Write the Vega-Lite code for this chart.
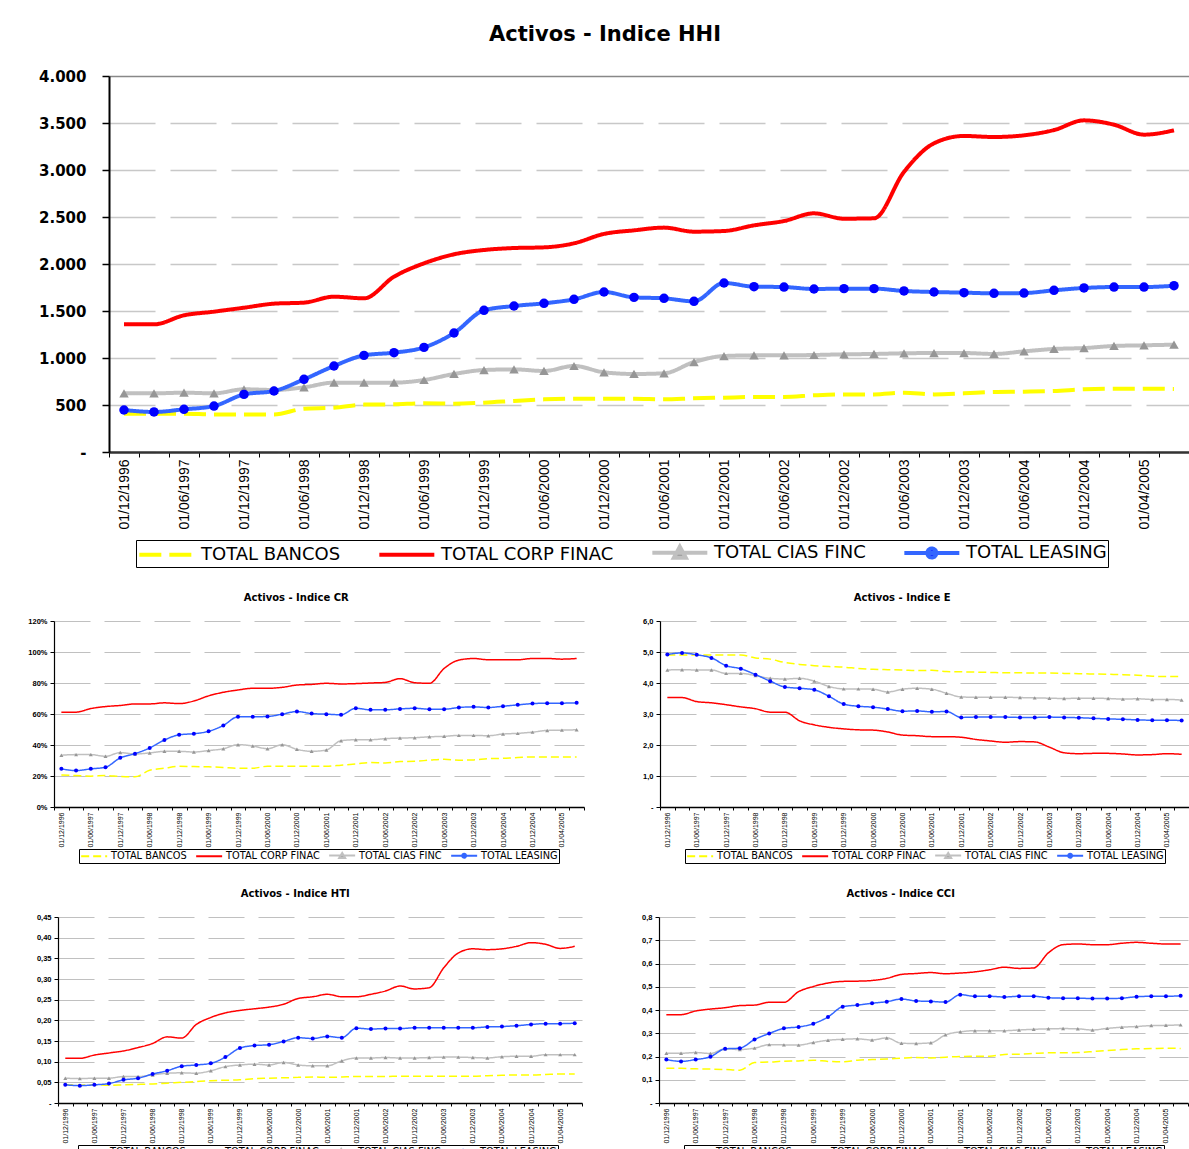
{
"$schema":"https://vega.github.io/schema/vega-lite/v6.json",
"background":"white",
"padding":{"left":8,"top":24,"right":0,"bottom":0},
"columns":1,
"spacing":25,
"resolve":{"scale":{"color":"independent","strokeDash":"independent","shape":"independent","fill":"independent"},"legend":{"color":"independent"}},
"config":{"view":{"stroke":null},"legend":{"layout":{"bottom":{"anchor":"middle"}}}},
"datasets":{
"hhi":[
{"d":"01/12/1996","s":"TOTAL BANCOS","v":408},{"d":"01/03/1997","s":"TOTAL BANCOS","v":408},{"d":"01/06/1997","s":"TOTAL BANCOS","v":408},{"d":"01/09/1997","s":"TOTAL BANCOS","v":400},{"d":"01/12/1997","s":"TOTAL BANCOS","v":400},{"d":"01/03/1998","s":"TOTAL BANCOS","v":400},{"d":"01/06/1998","s":"TOTAL BANCOS","v":461},{"d":"01/09/1998","s":"TOTAL BANCOS","v":472},{"d":"01/12/1998","s":"TOTAL BANCOS","v":504},{"d":"01/03/1999","s":"TOTAL BANCOS","v":507},{"d":"01/06/1999","s":"TOTAL BANCOS","v":518},{"d":"01/09/1999","s":"TOTAL BANCOS","v":514},{"d":"01/12/1999","s":"TOTAL BANCOS","v":525},{"d":"01/03/2000","s":"TOTAL BANCOS","v":543},{"d":"01/06/2000","s":"TOTAL BANCOS","v":560},{"d":"01/09/2000","s":"TOTAL BANCOS","v":567},{"d":"01/12/2000","s":"TOTAL BANCOS","v":567},{"d":"01/03/2001","s":"TOTAL BANCOS","v":567},{"d":"01/06/2001","s":"TOTAL BANCOS","v":560},{"d":"01/09/2001","s":"TOTAL BANCOS","v":571},{"d":"01/12/2001","s":"TOTAL BANCOS","v":578},{"d":"01/03/2002","s":"TOTAL BANCOS","v":585},{"d":"01/06/2002","s":"TOTAL BANCOS","v":585},{"d":"01/09/2002","s":"TOTAL BANCOS","v":603},{"d":"01/12/2002","s":"TOTAL BANCOS","v":613},{"d":"01/03/2003","s":"TOTAL BANCOS","v":613},{"d":"01/06/2003","s":"TOTAL BANCOS","v":631},{"d":"01/09/2003","s":"TOTAL BANCOS","v":613},{"d":"01/12/2003","s":"TOTAL BANCOS","v":624},{"d":"01/03/2004","s":"TOTAL BANCOS","v":638},{"d":"01/06/2004","s":"TOTAL BANCOS","v":642},{"d":"01/09/2004","s":"TOTAL BANCOS","v":649},{"d":"01/12/2004","s":"TOTAL BANCOS","v":667},{"d":"01/02/2005","s":"TOTAL BANCOS","v":674},{"d":"01/04/2005","s":"TOTAL BANCOS","v":674},{"d":"01/06/2005","s":"TOTAL BANCOS","v":670},
{"d":"01/12/1996","s":"TOTAL CORP FINAC","v":1358},{"d":"01/03/1997","s":"TOTAL CORP FINAC","v":1358},{"d":"01/06/1997","s":"TOTAL CORP FINAC","v":1454},{"d":"01/09/1997","s":"TOTAL CORP FINAC","v":1493},{"d":"01/12/1997","s":"TOTAL CORP FINAC","v":1535},{"d":"01/03/1998","s":"TOTAL CORP FINAC","v":1578},{"d":"01/06/1998","s":"TOTAL CORP FINAC","v":1589},{"d":"01/09/1998","s":"TOTAL CORP FINAC","v":1652},{"d":"01/12/1998","s":"TOTAL CORP FINAC","v":1635},{"d":"01/03/1999","s":"TOTAL CORP FINAC","v":1865},{"d":"01/06/1999","s":"TOTAL CORP FINAC","v":2007},{"d":"01/09/1999","s":"TOTAL CORP FINAC","v":2103},{"d":"01/12/1999","s":"TOTAL CORP FINAC","v":2149},{"d":"01/03/2000","s":"TOTAL CORP FINAC","v":2170},{"d":"01/06/2000","s":"TOTAL CORP FINAC","v":2177},{"d":"01/09/2000","s":"TOTAL CORP FINAC","v":2220},{"d":"01/12/2000","s":"TOTAL CORP FINAC","v":2320},{"d":"01/03/2001","s":"TOTAL CORP FINAC","v":2358},{"d":"01/06/2001","s":"TOTAL CORP FINAC","v":2387},{"d":"01/09/2001","s":"TOTAL CORP FINAC","v":2344},{"d":"01/12/2001","s":"TOTAL CORP FINAC","v":2351},{"d":"01/03/2002","s":"TOTAL CORP FINAC","v":2411},{"d":"01/06/2002","s":"TOTAL CORP FINAC","v":2457},{"d":"01/09/2002","s":"TOTAL CORP FINAC","v":2539},{"d":"01/12/2002","s":"TOTAL CORP FINAC","v":2482},{"d":"01/03/2003","s":"TOTAL CORP FINAC","v":2486},{"d":"01/06/2003","s":"TOTAL CORP FINAC","v":2980},{"d":"01/09/2003","s":"TOTAL CORP FINAC","v":3284},{"d":"01/12/2003","s":"TOTAL CORP FINAC","v":3362},{"d":"01/03/2004","s":"TOTAL CORP FINAC","v":3351},{"d":"01/06/2004","s":"TOTAL CORP FINAC","v":3369},{"d":"01/09/2004","s":"TOTAL CORP FINAC","v":3425},{"d":"01/12/2004","s":"TOTAL CORP FINAC","v":3528},{"d":"01/02/2005","s":"TOTAL CORP FINAC","v":3482},{"d":"01/04/2005","s":"TOTAL CORP FINAC","v":3376},{"d":"01/06/2005","s":"TOTAL CORP FINAC","v":3422},
{"d":"01/12/1996","s":"TOTAL CIAS FINC","v":624},{"d":"01/03/1997","s":"TOTAL CIAS FINC","v":624},{"d":"01/06/1997","s":"TOTAL CIAS FINC","v":631},{"d":"01/09/1997","s":"TOTAL CIAS FINC","v":624},{"d":"01/12/1997","s":"TOTAL CIAS FINC","v":667},{"d":"01/03/1998","s":"TOTAL CIAS FINC","v":660},{"d":"01/06/1998","s":"TOTAL CIAS FINC","v":688},{"d":"01/09/1998","s":"TOTAL CIAS FINC","v":738},{"d":"01/12/1998","s":"TOTAL CIAS FINC","v":738},{"d":"01/03/1999","s":"TOTAL CIAS FINC","v":738},{"d":"01/06/1999","s":"TOTAL CIAS FINC","v":766},{"d":"01/09/1999","s":"TOTAL CIAS FINC","v":830},{"d":"01/12/1999","s":"TOTAL CIAS FINC","v":872},{"d":"01/03/2000","s":"TOTAL CIAS FINC","v":879},{"d":"01/06/2000","s":"TOTAL CIAS FINC","v":862},{"d":"01/09/2000","s":"TOTAL CIAS FINC","v":915},{"d":"01/12/2000","s":"TOTAL CIAS FINC","v":848},{"d":"01/03/2001","s":"TOTAL CIAS FINC","v":830},{"d":"01/06/2001","s":"TOTAL CIAS FINC","v":837},{"d":"01/09/2001","s":"TOTAL CIAS FINC","v":957},{"d":"01/12/2001","s":"TOTAL CIAS FINC","v":1021},{"d":"01/03/2002","s":"TOTAL CIAS FINC","v":1028},{"d":"01/06/2002","s":"TOTAL CIAS FINC","v":1028},{"d":"01/09/2002","s":"TOTAL CIAS FINC","v":1032},{"d":"01/12/2002","s":"TOTAL CIAS FINC","v":1039},{"d":"01/03/2003","s":"TOTAL CIAS FINC","v":1043},{"d":"01/06/2003","s":"TOTAL CIAS FINC","v":1050},{"d":"01/09/2003","s":"TOTAL CIAS FINC","v":1053},{"d":"01/12/2003","s":"TOTAL CIAS FINC","v":1053},{"d":"01/03/2004","s":"TOTAL CIAS FINC","v":1043},{"d":"01/06/2004","s":"TOTAL CIAS FINC","v":1071},{"d":"01/09/2004","s":"TOTAL CIAS FINC","v":1096},{"d":"01/12/2004","s":"TOTAL CIAS FINC","v":1106},{"d":"01/02/2005","s":"TOTAL CIAS FINC","v":1128},{"d":"01/04/2005","s":"TOTAL CIAS FINC","v":1135},{"d":"01/06/2005","s":"TOTAL CIAS FINC","v":1142},
{"d":"01/12/1996","s":"TOTAL LEASING","v":447},{"d":"01/03/1997","s":"TOTAL LEASING","v":426},{"d":"01/06/1997","s":"TOTAL LEASING","v":454},{"d":"01/09/1997","s":"TOTAL LEASING","v":489},{"d":"01/12/1997","s":"TOTAL LEASING","v":613},{"d":"01/03/1998","s":"TOTAL LEASING","v":649},{"d":"01/06/1998","s":"TOTAL LEASING","v":773},{"d":"01/09/1998","s":"TOTAL LEASING","v":915},{"d":"01/12/1998","s":"TOTAL LEASING","v":1028},{"d":"01/03/1999","s":"TOTAL LEASING","v":1057},{"d":"01/06/1999","s":"TOTAL LEASING","v":1113},{"d":"01/09/1999","s":"TOTAL LEASING","v":1266},{"d":"01/12/1999","s":"TOTAL LEASING","v":1507},{"d":"01/03/2000","s":"TOTAL LEASING","v":1553},{"d":"01/06/2000","s":"TOTAL LEASING","v":1582},{"d":"01/09/2000","s":"TOTAL LEASING","v":1624},{"d":"01/12/2000","s":"TOTAL LEASING","v":1702},{"d":"01/03/2001","s":"TOTAL LEASING","v":1645},{"d":"01/06/2001","s":"TOTAL LEASING","v":1635},{"d":"01/09/2001","s":"TOTAL LEASING","v":1603},{"d":"01/12/2001","s":"TOTAL LEASING","v":1798},{"d":"01/03/2002","s":"TOTAL LEASING","v":1759},{"d":"01/06/2002","s":"TOTAL LEASING","v":1755},{"d":"01/09/2002","s":"TOTAL LEASING","v":1734},{"d":"01/12/2002","s":"TOTAL LEASING","v":1738},{"d":"01/03/2003","s":"TOTAL LEASING","v":1738},{"d":"01/06/2003","s":"TOTAL LEASING","v":1713},{"d":"01/09/2003","s":"TOTAL LEASING","v":1702},{"d":"01/12/2003","s":"TOTAL LEASING","v":1695},{"d":"01/03/2004","s":"TOTAL LEASING","v":1688},{"d":"01/06/2004","s":"TOTAL LEASING","v":1691},{"d":"01/09/2004","s":"TOTAL LEASING","v":1720},{"d":"01/12/2004","s":"TOTAL LEASING","v":1745},{"d":"01/02/2005","s":"TOTAL LEASING","v":1755},{"d":"01/04/2005","s":"TOTAL LEASING","v":1755},{"d":"01/06/2005","s":"TOTAL LEASING","v":1769}
],
"cr":[
{"d":"01/12/1996","s":"TOTAL BANCOS","v":20.7},{"d":"01/03/1997","s":"TOTAL BANCOS","v":20.3},{"d":"01/06/1997","s":"TOTAL BANCOS","v":19.9},{"d":"01/09/1997","s":"TOTAL BANCOS","v":20.3},{"d":"01/12/1997","s":"TOTAL BANCOS","v":19.7},{"d":"01/03/1998","s":"TOTAL BANCOS","v":19.5},{"d":"01/06/1998","s":"TOTAL BANCOS","v":23.7},{"d":"01/09/1998","s":"TOTAL BANCOS","v":25.0},{"d":"01/12/1998","s":"TOTAL BANCOS","v":26.3},{"d":"01/03/1999","s":"TOTAL BANCOS","v":26.1},{"d":"01/06/1999","s":"TOTAL BANCOS","v":25.9},{"d":"01/09/1999","s":"TOTAL BANCOS","v":25.5},{"d":"01/12/1999","s":"TOTAL BANCOS","v":25.0},{"d":"01/03/2000","s":"TOTAL BANCOS","v":25.0},{"d":"01/06/2000","s":"TOTAL BANCOS","v":26.3},{"d":"01/09/2000","s":"TOTAL BANCOS","v":26.3},{"d":"01/12/2000","s":"TOTAL BANCOS","v":26.3},{"d":"01/03/2001","s":"TOTAL BANCOS","v":26.3},{"d":"01/06/2001","s":"TOTAL BANCOS","v":26.3},{"d":"01/09/2001","s":"TOTAL BANCOS","v":27.0},{"d":"01/12/2001","s":"TOTAL BANCOS","v":27.8},{"d":"01/03/2002","s":"TOTAL BANCOS","v":28.7},{"d":"01/06/2002","s":"TOTAL BANCOS","v":28.4},{"d":"01/09/2002","s":"TOTAL BANCOS","v":29.3},{"d":"01/12/2002","s":"TOTAL BANCOS","v":29.5},{"d":"01/03/2003","s":"TOTAL BANCOS","v":30.2},{"d":"01/06/2003","s":"TOTAL BANCOS","v":30.8},{"d":"01/09/2003","s":"TOTAL BANCOS","v":30.2},{"d":"01/12/2003","s":"TOTAL BANCOS","v":30.4},{"d":"01/03/2004","s":"TOTAL BANCOS","v":31.2},{"d":"01/06/2004","s":"TOTAL BANCOS","v":31.4},{"d":"01/09/2004","s":"TOTAL BANCOS","v":31.9},{"d":"01/12/2004","s":"TOTAL BANCOS","v":32.3},{"d":"01/02/2005","s":"TOTAL BANCOS","v":32.3},{"d":"01/04/2005","s":"TOTAL BANCOS","v":32.3},{"d":"01/06/2005","s":"TOTAL BANCOS","v":32.3},
{"d":"01/12/1996","s":"TOTAL CORP FINAC","v":61.2},{"d":"01/03/1997","s":"TOTAL CORP FINAC","v":61.2},{"d":"01/06/1997","s":"TOTAL CORP FINAC","v":63.5},{"d":"01/09/1997","s":"TOTAL CORP FINAC","v":64.8},{"d":"01/12/1997","s":"TOTAL CORP FINAC","v":65.5},{"d":"01/03/1998","s":"TOTAL CORP FINAC","v":66.5},{"d":"01/06/1998","s":"TOTAL CORP FINAC","v":66.5},{"d":"01/09/1998","s":"TOTAL CORP FINAC","v":67.2},{"d":"01/12/1998","s":"TOTAL CORP FINAC","v":66.7},{"d":"01/03/1999","s":"TOTAL CORP FINAC","v":68.4},{"d":"01/06/1999","s":"TOTAL CORP FINAC","v":71.7},{"d":"01/09/1999","s":"TOTAL CORP FINAC","v":74.0},{"d":"01/12/1999","s":"TOTAL CORP FINAC","v":75.5},{"d":"01/03/2000","s":"TOTAL CORP FINAC","v":76.6},{"d":"01/06/2000","s":"TOTAL CORP FINAC","v":76.6},{"d":"01/09/2000","s":"TOTAL CORP FINAC","v":77.2},{"d":"01/12/2000","s":"TOTAL CORP FINAC","v":78.7},{"d":"01/03/2001","s":"TOTAL CORP FINAC","v":79.1},{"d":"01/06/2001","s":"TOTAL CORP FINAC","v":79.8},{"d":"01/09/2001","s":"TOTAL CORP FINAC","v":79.4},{"d":"01/12/2001","s":"TOTAL CORP FINAC","v":79.6},{"d":"01/03/2002","s":"TOTAL CORP FINAC","v":80.0},{"d":"01/06/2002","s":"TOTAL CORP FINAC","v":80.4},{"d":"01/09/2002","s":"TOTAL CORP FINAC","v":82.8},{"d":"01/12/2002","s":"TOTAL CORP FINAC","v":80.2},{"d":"01/03/2003","s":"TOTAL CORP FINAC","v":79.8},{"d":"01/06/2003","s":"TOTAL CORP FINAC","v":89.4},{"d":"01/09/2003","s":"TOTAL CORP FINAC","v":94.8},{"d":"01/12/2003","s":"TOTAL CORP FINAC","v":95.8},{"d":"01/03/2004","s":"TOTAL CORP FINAC","v":95.0},{"d":"01/06/2004","s":"TOTAL CORP FINAC","v":95.0},{"d":"01/09/2004","s":"TOTAL CORP FINAC","v":95.0},{"d":"01/12/2004","s":"TOTAL CORP FINAC","v":95.8},{"d":"01/02/2005","s":"TOTAL CORP FINAC","v":95.8},{"d":"01/04/2005","s":"TOTAL CORP FINAC","v":95.4},{"d":"01/06/2005","s":"TOTAL CORP FINAC","v":95.8},
{"d":"01/12/1996","s":"TOTAL CIAS FINC","v":33.4},{"d":"01/03/1997","s":"TOTAL CIAS FINC","v":33.8},{"d":"01/06/1997","s":"TOTAL CIAS FINC","v":33.8},{"d":"01/09/1997","s":"TOTAL CIAS FINC","v":32.7},{"d":"01/12/1997","s":"TOTAL CIAS FINC","v":35.1},{"d":"01/03/1998","s":"TOTAL CIAS FINC","v":34.2},{"d":"01/06/1998","s":"TOTAL CIAS FINC","v":34.9},{"d":"01/09/1998","s":"TOTAL CIAS FINC","v":35.9},{"d":"01/12/1998","s":"TOTAL CIAS FINC","v":35.9},{"d":"01/03/1999","s":"TOTAL CIAS FINC","v":35.5},{"d":"01/06/1999","s":"TOTAL CIAS FINC","v":36.4},{"d":"01/09/1999","s":"TOTAL CIAS FINC","v":37.6},{"d":"01/12/1999","s":"TOTAL CIAS FINC","v":40.2},{"d":"01/03/2000","s":"TOTAL CIAS FINC","v":39.4},{"d":"01/06/2000","s":"TOTAL CIAS FINC","v":37.6},{"d":"01/09/2000","s":"TOTAL CIAS FINC","v":40.2},{"d":"01/12/2000","s":"TOTAL CIAS FINC","v":37.2},{"d":"01/03/2001","s":"TOTAL CIAS FINC","v":35.9},{"d":"01/06/2001","s":"TOTAL CIAS FINC","v":36.8},{"d":"01/09/2001","s":"TOTAL CIAS FINC","v":42.8},{"d":"01/12/2001","s":"TOTAL CIAS FINC","v":43.4},{"d":"01/03/2002","s":"TOTAL CIAS FINC","v":43.4},{"d":"01/06/2002","s":"TOTAL CIAS FINC","v":44.1},{"d":"01/09/2002","s":"TOTAL CIAS FINC","v":44.5},{"d":"01/12/2002","s":"TOTAL CIAS FINC","v":44.7},{"d":"01/03/2003","s":"TOTAL CIAS FINC","v":45.3},{"d":"01/06/2003","s":"TOTAL CIAS FINC","v":45.6},{"d":"01/09/2003","s":"TOTAL CIAS FINC","v":46.2},{"d":"01/12/2003","s":"TOTAL CIAS FINC","v":46.2},{"d":"01/03/2004","s":"TOTAL CIAS FINC","v":46.0},{"d":"01/06/2004","s":"TOTAL CIAS FINC","v":47.1},{"d":"01/09/2004","s":"TOTAL CIAS FINC","v":47.5},{"d":"01/12/2004","s":"TOTAL CIAS FINC","v":48.3},{"d":"01/02/2005","s":"TOTAL CIAS FINC","v":49.4},{"d":"01/04/2005","s":"TOTAL CIAS FINC","v":49.6},{"d":"01/06/2005","s":"TOTAL CIAS FINC","v":49.8},
{"d":"01/12/1996","s":"TOTAL LEASING","v":24.6},{"d":"01/03/1997","s":"TOTAL LEASING","v":23.5},{"d":"01/06/1997","s":"TOTAL LEASING","v":24.6},{"d":"01/09/1997","s":"TOTAL LEASING","v":25.7},{"d":"01/12/1997","s":"TOTAL LEASING","v":31.7},{"d":"01/03/1998","s":"TOTAL LEASING","v":34.4},{"d":"01/06/1998","s":"TOTAL LEASING","v":38.1},{"d":"01/09/1998","s":"TOTAL LEASING","v":43.2},{"d":"01/12/1998","s":"TOTAL LEASING","v":46.6},{"d":"01/03/1999","s":"TOTAL LEASING","v":47.3},{"d":"01/06/1999","s":"TOTAL LEASING","v":48.8},{"d":"01/09/1999","s":"TOTAL LEASING","v":52.6},{"d":"01/12/1999","s":"TOTAL LEASING","v":58.2},{"d":"01/03/2000","s":"TOTAL LEASING","v":58.2},{"d":"01/06/2000","s":"TOTAL LEASING","v":58.4},{"d":"01/09/2000","s":"TOTAL LEASING","v":59.9},{"d":"01/12/2000","s":"TOTAL LEASING","v":61.6},{"d":"01/03/2001","s":"TOTAL LEASING","v":60.3},{"d":"01/06/2001","s":"TOTAL LEASING","v":59.9},{"d":"01/09/2001","s":"TOTAL LEASING","v":59.5},{"d":"01/12/2001","s":"TOTAL LEASING","v":63.7},{"d":"01/03/2002","s":"TOTAL LEASING","v":62.7},{"d":"01/06/2002","s":"TOTAL LEASING","v":62.7},{"d":"01/09/2002","s":"TOTAL LEASING","v":63.3},{"d":"01/12/2002","s":"TOTAL LEASING","v":63.7},{"d":"01/03/2003","s":"TOTAL LEASING","v":63.1},{"d":"01/06/2003","s":"TOTAL LEASING","v":63.1},{"d":"01/09/2003","s":"TOTAL LEASING","v":64.2},{"d":"01/12/2003","s":"TOTAL LEASING","v":64.6},{"d":"01/03/2004","s":"TOTAL LEASING","v":64.2},{"d":"01/06/2004","s":"TOTAL LEASING","v":65.0},{"d":"01/09/2004","s":"TOTAL LEASING","v":65.9},{"d":"01/12/2004","s":"TOTAL LEASING","v":66.7},{"d":"01/02/2005","s":"TOTAL LEASING","v":67.0},{"d":"01/04/2005","s":"TOTAL LEASING","v":67.0},{"d":"01/06/2005","s":"TOTAL LEASING","v":67.2}
],
"e":[
{"d":"01/12/1996","s":"TOTAL BANCOS","v":4.90},{"d":"01/03/1997","s":"TOTAL BANCOS","v":4.90},{"d":"01/06/1997","s":"TOTAL BANCOS","v":4.90},{"d":"01/09/1997","s":"TOTAL BANCOS","v":4.90},{"d":"01/12/1997","s":"TOTAL BANCOS","v":4.90},{"d":"01/03/1998","s":"TOTAL BANCOS","v":4.90},{"d":"01/06/1998","s":"TOTAL BANCOS","v":4.81},{"d":"01/09/1998","s":"TOTAL BANCOS","v":4.77},{"d":"01/12/1998","s":"TOTAL BANCOS","v":4.66},{"d":"01/03/1999","s":"TOTAL BANCOS","v":4.60},{"d":"01/06/1999","s":"TOTAL BANCOS","v":4.56},{"d":"01/09/1999","s":"TOTAL BANCOS","v":4.53},{"d":"01/12/1999","s":"TOTAL BANCOS","v":4.51},{"d":"01/03/2000","s":"TOTAL BANCOS","v":4.47},{"d":"01/06/2000","s":"TOTAL BANCOS","v":4.44},{"d":"01/09/2000","s":"TOTAL BANCOS","v":4.43},{"d":"01/12/2000","s":"TOTAL BANCOS","v":4.42},{"d":"01/03/2001","s":"TOTAL BANCOS","v":4.40},{"d":"01/06/2001","s":"TOTAL BANCOS","v":4.41},{"d":"01/09/2001","s":"TOTAL BANCOS","v":4.37},{"d":"01/12/2001","s":"TOTAL BANCOS","v":4.36},{"d":"01/03/2002","s":"TOTAL BANCOS","v":4.35},{"d":"01/06/2002","s":"TOTAL BANCOS","v":4.34},{"d":"01/09/2002","s":"TOTAL BANCOS","v":4.33},{"d":"01/12/2002","s":"TOTAL BANCOS","v":4.33},{"d":"01/03/2003","s":"TOTAL BANCOS","v":4.32},{"d":"01/06/2003","s":"TOTAL BANCOS","v":4.32},{"d":"01/09/2003","s":"TOTAL BANCOS","v":4.31},{"d":"01/12/2003","s":"TOTAL BANCOS","v":4.30},{"d":"01/03/2004","s":"TOTAL BANCOS","v":4.29},{"d":"01/06/2004","s":"TOTAL BANCOS","v":4.28},{"d":"01/09/2004","s":"TOTAL BANCOS","v":4.27},{"d":"01/12/2004","s":"TOTAL BANCOS","v":4.25},{"d":"01/02/2005","s":"TOTAL BANCOS","v":4.22},{"d":"01/04/2005","s":"TOTAL BANCOS","v":4.21},{"d":"01/06/2005","s":"TOTAL BANCOS","v":4.21},
{"d":"01/12/1996","s":"TOTAL CORP FINAC","v":3.53},{"d":"01/03/1997","s":"TOTAL CORP FINAC","v":3.53},{"d":"01/06/1997","s":"TOTAL CORP FINAC","v":3.40},{"d":"01/09/1997","s":"TOTAL CORP FINAC","v":3.36},{"d":"01/12/1997","s":"TOTAL CORP FINAC","v":3.30},{"d":"01/03/1998","s":"TOTAL CORP FINAC","v":3.23},{"d":"01/06/1998","s":"TOTAL CORP FINAC","v":3.17},{"d":"01/09/1998","s":"TOTAL CORP FINAC","v":3.06},{"d":"01/12/1998","s":"TOTAL CORP FINAC","v":3.06},{"d":"01/03/1999","s":"TOTAL CORP FINAC","v":2.78},{"d":"01/06/1999","s":"TOTAL CORP FINAC","v":2.65},{"d":"01/09/1999","s":"TOTAL CORP FINAC","v":2.57},{"d":"01/12/1999","s":"TOTAL CORP FINAC","v":2.52},{"d":"01/03/2000","s":"TOTAL CORP FINAC","v":2.49},{"d":"01/06/2000","s":"TOTAL CORP FINAC","v":2.48},{"d":"01/09/2000","s":"TOTAL CORP FINAC","v":2.42},{"d":"01/12/2000","s":"TOTAL CORP FINAC","v":2.32},{"d":"01/03/2001","s":"TOTAL CORP FINAC","v":2.30},{"d":"01/06/2001","s":"TOTAL CORP FINAC","v":2.27},{"d":"01/09/2001","s":"TOTAL CORP FINAC","v":2.27},{"d":"01/12/2001","s":"TOTAL CORP FINAC","v":2.25},{"d":"01/03/2002","s":"TOTAL CORP FINAC","v":2.18},{"d":"01/06/2002","s":"TOTAL CORP FINAC","v":2.13},{"d":"01/09/2002","s":"TOTAL CORP FINAC","v":2.09},{"d":"01/12/2002","s":"TOTAL CORP FINAC","v":2.11},{"d":"01/03/2003","s":"TOTAL CORP FINAC","v":2.10},{"d":"01/06/2003","s":"TOTAL CORP FINAC","v":1.93},{"d":"01/09/2003","s":"TOTAL CORP FINAC","v":1.75},{"d":"01/12/2003","s":"TOTAL CORP FINAC","v":1.72},{"d":"01/03/2004","s":"TOTAL CORP FINAC","v":1.73},{"d":"01/06/2004","s":"TOTAL CORP FINAC","v":1.73},{"d":"01/09/2004","s":"TOTAL CORP FINAC","v":1.71},{"d":"01/12/2004","s":"TOTAL CORP FINAC","v":1.68},{"d":"01/02/2005","s":"TOTAL CORP FINAC","v":1.69},{"d":"01/04/2005","s":"TOTAL CORP FINAC","v":1.72},{"d":"01/06/2005","s":"TOTAL CORP FINAC","v":1.70},
{"d":"01/12/1996","s":"TOTAL CIAS FINC","v":4.42},{"d":"01/03/1997","s":"TOTAL CIAS FINC","v":4.43},{"d":"01/06/1997","s":"TOTAL CIAS FINC","v":4.42},{"d":"01/09/1997","s":"TOTAL CIAS FINC","v":4.42},{"d":"01/12/1997","s":"TOTAL CIAS FINC","v":4.31},{"d":"01/03/1998","s":"TOTAL CIAS FINC","v":4.31},{"d":"01/06/1998","s":"TOTAL CIAS FINC","v":4.24},{"d":"01/09/1998","s":"TOTAL CIAS FINC","v":4.15},{"d":"01/12/1998","s":"TOTAL CIAS FINC","v":4.13},{"d":"01/03/1999","s":"TOTAL CIAS FINC","v":4.15},{"d":"01/06/1999","s":"TOTAL CIAS FINC","v":4.06},{"d":"01/09/1999","s":"TOTAL CIAS FINC","v":3.89},{"d":"01/12/1999","s":"TOTAL CIAS FINC","v":3.81},{"d":"01/03/2000","s":"TOTAL CIAS FINC","v":3.81},{"d":"01/06/2000","s":"TOTAL CIAS FINC","v":3.80},{"d":"01/09/2000","s":"TOTAL CIAS FINC","v":3.71},{"d":"01/12/2000","s":"TOTAL CIAS FINC","v":3.80},{"d":"01/03/2001","s":"TOTAL CIAS FINC","v":3.83},{"d":"01/06/2001","s":"TOTAL CIAS FINC","v":3.80},{"d":"01/09/2001","s":"TOTAL CIAS FINC","v":3.67},{"d":"01/12/2001","s":"TOTAL CIAS FINC","v":3.55},{"d":"01/03/2002","s":"TOTAL CIAS FINC","v":3.54},{"d":"01/06/2002","s":"TOTAL CIAS FINC","v":3.54},{"d":"01/09/2002","s":"TOTAL CIAS FINC","v":3.54},{"d":"01/12/2002","s":"TOTAL CIAS FINC","v":3.53},{"d":"01/03/2003","s":"TOTAL CIAS FINC","v":3.52},{"d":"01/06/2003","s":"TOTAL CIAS FINC","v":3.51},{"d":"01/09/2003","s":"TOTAL CIAS FINC","v":3.50},{"d":"01/12/2003","s":"TOTAL CIAS FINC","v":3.51},{"d":"01/03/2004","s":"TOTAL CIAS FINC","v":3.51},{"d":"01/06/2004","s":"TOTAL CIAS FINC","v":3.50},{"d":"01/09/2004","s":"TOTAL CIAS FINC","v":3.48},{"d":"01/12/2004","s":"TOTAL CIAS FINC","v":3.49},{"d":"01/02/2005","s":"TOTAL CIAS FINC","v":3.47},{"d":"01/04/2005","s":"TOTAL CIAS FINC","v":3.47},{"d":"01/06/2005","s":"TOTAL CIAS FINC","v":3.45},
{"d":"01/12/1996","s":"TOTAL LEASING","v":4.92},{"d":"01/03/1997","s":"TOTAL LEASING","v":4.97},{"d":"01/06/1997","s":"TOTAL LEASING","v":4.91},{"d":"01/09/1997","s":"TOTAL LEASING","v":4.81},{"d":"01/12/1997","s":"TOTAL LEASING","v":4.56},{"d":"01/03/1998","s":"TOTAL LEASING","v":4.46},{"d":"01/06/1998","s":"TOTAL LEASING","v":4.27},{"d":"01/09/1998","s":"TOTAL LEASING","v":4.06},{"d":"01/12/1998","s":"TOTAL LEASING","v":3.87},{"d":"01/03/1999","s":"TOTAL LEASING","v":3.83},{"d":"01/06/1999","s":"TOTAL LEASING","v":3.78},{"d":"01/09/1999","s":"TOTAL LEASING","v":3.57},{"d":"01/12/1999","s":"TOTAL LEASING","v":3.32},{"d":"01/03/2000","s":"TOTAL LEASING","v":3.25},{"d":"01/06/2000","s":"TOTAL LEASING","v":3.22},{"d":"01/09/2000","s":"TOTAL LEASING","v":3.16},{"d":"01/12/2000","s":"TOTAL LEASING","v":3.09},{"d":"01/03/2001","s":"TOTAL LEASING","v":3.10},{"d":"01/06/2001","s":"TOTAL LEASING","v":3.07},{"d":"01/09/2001","s":"TOTAL LEASING","v":3.08},{"d":"01/12/2001","s":"TOTAL LEASING","v":2.89},{"d":"01/03/2002","s":"TOTAL LEASING","v":2.90},{"d":"01/06/2002","s":"TOTAL LEASING","v":2.90},{"d":"01/09/2002","s":"TOTAL LEASING","v":2.90},{"d":"01/12/2002","s":"TOTAL LEASING","v":2.89},{"d":"01/03/2003","s":"TOTAL LEASING","v":2.89},{"d":"01/06/2003","s":"TOTAL LEASING","v":2.90},{"d":"01/09/2003","s":"TOTAL LEASING","v":2.89},{"d":"01/12/2003","s":"TOTAL LEASING","v":2.88},{"d":"01/03/2004","s":"TOTAL LEASING","v":2.86},{"d":"01/06/2004","s":"TOTAL LEASING","v":2.84},{"d":"01/09/2004","s":"TOTAL LEASING","v":2.83},{"d":"01/12/2004","s":"TOTAL LEASING","v":2.81},{"d":"01/02/2005","s":"TOTAL LEASING","v":2.80},{"d":"01/04/2005","s":"TOTAL LEASING","v":2.80},{"d":"01/06/2005","s":"TOTAL LEASING","v":2.79}
],
"hti":[
{"d":"01/12/1996","s":"TOTAL BANCOS","v":0.044},{"d":"01/03/1997","s":"TOTAL BANCOS","v":0.043},{"d":"01/06/1997","s":"TOTAL BANCOS","v":0.044},{"d":"01/09/1997","s":"TOTAL BANCOS","v":0.043},{"d":"01/12/1997","s":"TOTAL BANCOS","v":0.044},{"d":"01/03/1998","s":"TOTAL BANCOS","v":0.045},{"d":"01/06/1998","s":"TOTAL BANCOS","v":0.046},{"d":"01/09/1998","s":"TOTAL BANCOS","v":0.048},{"d":"01/12/1998","s":"TOTAL BANCOS","v":0.050},{"d":"01/03/1999","s":"TOTAL BANCOS","v":0.052},{"d":"01/06/1999","s":"TOTAL BANCOS","v":0.054},{"d":"01/09/1999","s":"TOTAL BANCOS","v":0.055},{"d":"01/12/1999","s":"TOTAL BANCOS","v":0.056},{"d":"01/03/2000","s":"TOTAL BANCOS","v":0.059},{"d":"01/06/2000","s":"TOTAL BANCOS","v":0.060},{"d":"01/09/2000","s":"TOTAL BANCOS","v":0.061},{"d":"01/12/2000","s":"TOTAL BANCOS","v":0.062},{"d":"01/03/2001","s":"TOTAL BANCOS","v":0.063},{"d":"01/06/2001","s":"TOTAL BANCOS","v":0.062},{"d":"01/09/2001","s":"TOTAL BANCOS","v":0.063},{"d":"01/12/2001","s":"TOTAL BANCOS","v":0.064},{"d":"01/03/2002","s":"TOTAL BANCOS","v":0.064},{"d":"01/06/2002","s":"TOTAL BANCOS","v":0.064},{"d":"01/09/2002","s":"TOTAL BANCOS","v":0.065},{"d":"01/12/2002","s":"TOTAL BANCOS","v":0.065},{"d":"01/03/2003","s":"TOTAL BANCOS","v":0.065},{"d":"01/06/2003","s":"TOTAL BANCOS","v":0.065},{"d":"01/09/2003","s":"TOTAL BANCOS","v":0.065},{"d":"01/12/2003","s":"TOTAL BANCOS","v":0.065},{"d":"01/03/2004","s":"TOTAL BANCOS","v":0.066},{"d":"01/06/2004","s":"TOTAL BANCOS","v":0.067},{"d":"01/09/2004","s":"TOTAL BANCOS","v":0.068},{"d":"01/12/2004","s":"TOTAL BANCOS","v":0.068},{"d":"01/02/2005","s":"TOTAL BANCOS","v":0.069},{"d":"01/04/2005","s":"TOTAL BANCOS","v":0.070},{"d":"01/06/2005","s":"TOTAL BANCOS","v":0.070},
{"d":"01/12/1996","s":"TOTAL CORP FINAC","v":0.108},{"d":"01/03/1997","s":"TOTAL CORP FINAC","v":0.108},{"d":"01/06/1997","s":"TOTAL CORP FINAC","v":0.116},{"d":"01/09/1997","s":"TOTAL CORP FINAC","v":0.121},{"d":"01/12/1997","s":"TOTAL CORP FINAC","v":0.126},{"d":"01/03/1998","s":"TOTAL CORP FINAC","v":0.134},{"d":"01/06/1998","s":"TOTAL CORP FINAC","v":0.144},{"d":"01/09/1998","s":"TOTAL CORP FINAC","v":0.160},{"d":"01/12/1998","s":"TOTAL CORP FINAC","v":0.157},{"d":"01/03/1999","s":"TOTAL CORP FINAC","v":0.190},{"d":"01/06/1999","s":"TOTAL CORP FINAC","v":0.207},{"d":"01/09/1999","s":"TOTAL CORP FINAC","v":0.218},{"d":"01/12/1999","s":"TOTAL CORP FINAC","v":0.224},{"d":"01/03/2000","s":"TOTAL CORP FINAC","v":0.228},{"d":"01/06/2000","s":"TOTAL CORP FINAC","v":0.232},{"d":"01/09/2000","s":"TOTAL CORP FINAC","v":0.239},{"d":"01/12/2000","s":"TOTAL CORP FINAC","v":0.253},{"d":"01/03/2001","s":"TOTAL CORP FINAC","v":0.257},{"d":"01/06/2001","s":"TOTAL CORP FINAC","v":0.263},{"d":"01/09/2001","s":"TOTAL CORP FINAC","v":0.257},{"d":"01/12/2001","s":"TOTAL CORP FINAC","v":0.257},{"d":"01/03/2002","s":"TOTAL CORP FINAC","v":0.263},{"d":"01/06/2002","s":"TOTAL CORP FINAC","v":0.271},{"d":"01/09/2002","s":"TOTAL CORP FINAC","v":0.283},{"d":"01/12/2002","s":"TOTAL CORP FINAC","v":0.276},{"d":"01/03/2003","s":"TOTAL CORP FINAC","v":0.279},{"d":"01/06/2003","s":"TOTAL CORP FINAC","v":0.327},{"d":"01/09/2003","s":"TOTAL CORP FINAC","v":0.363},{"d":"01/12/2003","s":"TOTAL CORP FINAC","v":0.373},{"d":"01/03/2004","s":"TOTAL CORP FINAC","v":0.371},{"d":"01/06/2004","s":"TOTAL CORP FINAC","v":0.373},{"d":"01/09/2004","s":"TOTAL CORP FINAC","v":0.379},{"d":"01/12/2004","s":"TOTAL CORP FINAC","v":0.388},{"d":"01/02/2005","s":"TOTAL CORP FINAC","v":0.384},{"d":"01/04/2005","s":"TOTAL CORP FINAC","v":0.374},{"d":"01/06/2005","s":"TOTAL CORP FINAC","v":0.379},
{"d":"01/12/1996","s":"TOTAL CIAS FINC","v":0.060},{"d":"01/03/1997","s":"TOTAL CIAS FINC","v":0.059},{"d":"01/06/1997","s":"TOTAL CIAS FINC","v":0.060},{"d":"01/09/1997","s":"TOTAL CIAS FINC","v":0.060},{"d":"01/12/1997","s":"TOTAL CIAS FINC","v":0.064},{"d":"01/03/1998","s":"TOTAL CIAS FINC","v":0.064},{"d":"01/06/1998","s":"TOTAL CIAS FINC","v":0.068},{"d":"01/09/1998","s":"TOTAL CIAS FINC","v":0.072},{"d":"01/12/1998","s":"TOTAL CIAS FINC","v":0.073},{"d":"01/03/1999","s":"TOTAL CIAS FINC","v":0.072},{"d":"01/06/1999","s":"TOTAL CIAS FINC","v":0.078},{"d":"01/09/1999","s":"TOTAL CIAS FINC","v":0.088},{"d":"01/12/1999","s":"TOTAL CIAS FINC","v":0.092},{"d":"01/03/2000","s":"TOTAL CIAS FINC","v":0.094},{"d":"01/06/2000","s":"TOTAL CIAS FINC","v":0.092},{"d":"01/09/2000","s":"TOTAL CIAS FINC","v":0.098},{"d":"01/12/2000","s":"TOTAL CIAS FINC","v":0.092},{"d":"01/03/2001","s":"TOTAL CIAS FINC","v":0.090},{"d":"01/06/2001","s":"TOTAL CIAS FINC","v":0.090},{"d":"01/09/2001","s":"TOTAL CIAS FINC","v":0.102},{"d":"01/12/2001","s":"TOTAL CIAS FINC","v":0.109},{"d":"01/03/2002","s":"TOTAL CIAS FINC","v":0.109},{"d":"01/06/2002","s":"TOTAL CIAS FINC","v":0.110},{"d":"01/09/2002","s":"TOTAL CIAS FINC","v":0.109},{"d":"01/12/2002","s":"TOTAL CIAS FINC","v":0.109},{"d":"01/03/2003","s":"TOTAL CIAS FINC","v":0.110},{"d":"01/06/2003","s":"TOTAL CIAS FINC","v":0.111},{"d":"01/09/2003","s":"TOTAL CIAS FINC","v":0.111},{"d":"01/12/2003","s":"TOTAL CIAS FINC","v":0.110},{"d":"01/03/2004","s":"TOTAL CIAS FINC","v":0.109},{"d":"01/06/2004","s":"TOTAL CIAS FINC","v":0.112},{"d":"01/09/2004","s":"TOTAL CIAS FINC","v":0.113},{"d":"01/12/2004","s":"TOTAL CIAS FINC","v":0.113},{"d":"01/02/2005","s":"TOTAL CIAS FINC","v":0.117},{"d":"01/04/2005","s":"TOTAL CIAS FINC","v":0.117},{"d":"01/06/2005","s":"TOTAL CIAS FINC","v":0.117},
{"d":"01/12/1996","s":"TOTAL LEASING","v":0.044},{"d":"01/03/1997","s":"TOTAL LEASING","v":0.042},{"d":"01/06/1997","s":"TOTAL LEASING","v":0.044},{"d":"01/09/1997","s":"TOTAL LEASING","v":0.047},{"d":"01/12/1997","s":"TOTAL LEASING","v":0.056},{"d":"01/03/1998","s":"TOTAL LEASING","v":0.060},{"d":"01/06/1998","s":"TOTAL LEASING","v":0.070},{"d":"01/09/1998","s":"TOTAL LEASING","v":0.078},{"d":"01/12/1998","s":"TOTAL LEASING","v":0.089},{"d":"01/03/1999","s":"TOTAL LEASING","v":0.092},{"d":"01/06/1999","s":"TOTAL LEASING","v":0.096},{"d":"01/09/1999","s":"TOTAL LEASING","v":0.111},{"d":"01/12/1999","s":"TOTAL LEASING","v":0.133},{"d":"01/03/2000","s":"TOTAL LEASING","v":0.139},{"d":"01/06/2000","s":"TOTAL LEASING","v":0.141},{"d":"01/09/2000","s":"TOTAL LEASING","v":0.149},{"d":"01/12/2000","s":"TOTAL LEASING","v":0.158},{"d":"01/03/2001","s":"TOTAL LEASING","v":0.156},{"d":"01/06/2001","s":"TOTAL LEASING","v":0.161},{"d":"01/09/2001","s":"TOTAL LEASING","v":0.158},{"d":"01/12/2001","s":"TOTAL LEASING","v":0.181},{"d":"01/03/2002","s":"TOTAL LEASING","v":0.179},{"d":"01/06/2002","s":"TOTAL LEASING","v":0.180},{"d":"01/09/2002","s":"TOTAL LEASING","v":0.180},{"d":"01/12/2002","s":"TOTAL LEASING","v":0.182},{"d":"01/03/2003","s":"TOTAL LEASING","v":0.182},{"d":"01/06/2003","s":"TOTAL LEASING","v":0.182},{"d":"01/09/2003","s":"TOTAL LEASING","v":0.182},{"d":"01/12/2003","s":"TOTAL LEASING","v":0.182},{"d":"01/03/2004","s":"TOTAL LEASING","v":0.184},{"d":"01/06/2004","s":"TOTAL LEASING","v":0.185},{"d":"01/09/2004","s":"TOTAL LEASING","v":0.187},{"d":"01/12/2004","s":"TOTAL LEASING","v":0.190},{"d":"01/02/2005","s":"TOTAL LEASING","v":0.192},{"d":"01/04/2005","s":"TOTAL LEASING","v":0.192},{"d":"01/06/2005","s":"TOTAL LEASING","v":0.193}
],
"cci":[
{"d":"01/12/1996","s":"TOTAL BANCOS","v":0.149},{"d":"01/03/1997","s":"TOTAL BANCOS","v":0.149},{"d":"01/06/1997","s":"TOTAL BANCOS","v":0.147},{"d":"01/09/1997","s":"TOTAL BANCOS","v":0.146},{"d":"01/12/1997","s":"TOTAL BANCOS","v":0.144},{"d":"01/03/1998","s":"TOTAL BANCOS","v":0.141},{"d":"01/06/1998","s":"TOTAL BANCOS","v":0.174},{"d":"01/09/1998","s":"TOTAL BANCOS","v":0.176},{"d":"01/12/1998","s":"TOTAL BANCOS","v":0.180},{"d":"01/03/1999","s":"TOTAL BANCOS","v":0.181},{"d":"01/06/1999","s":"TOTAL BANCOS","v":0.184},{"d":"01/09/1999","s":"TOTAL BANCOS","v":0.179},{"d":"01/12/1999","s":"TOTAL BANCOS","v":0.177},{"d":"01/03/2000","s":"TOTAL BANCOS","v":0.184},{"d":"01/06/2000","s":"TOTAL BANCOS","v":0.187},{"d":"01/09/2000","s":"TOTAL BANCOS","v":0.189},{"d":"01/12/2000","s":"TOTAL BANCOS","v":0.193},{"d":"01/03/2001","s":"TOTAL BANCOS","v":0.196},{"d":"01/06/2001","s":"TOTAL BANCOS","v":0.194},{"d":"01/09/2001","s":"TOTAL BANCOS","v":0.197},{"d":"01/12/2001","s":"TOTAL BANCOS","v":0.200},{"d":"01/03/2002","s":"TOTAL BANCOS","v":0.201},{"d":"01/06/2002","s":"TOTAL BANCOS","v":0.201},{"d":"01/09/2002","s":"TOTAL BANCOS","v":0.209},{"d":"01/12/2002","s":"TOTAL BANCOS","v":0.210},{"d":"01/03/2003","s":"TOTAL BANCOS","v":0.213},{"d":"01/06/2003","s":"TOTAL BANCOS","v":0.216},{"d":"01/09/2003","s":"TOTAL BANCOS","v":0.216},{"d":"01/12/2003","s":"TOTAL BANCOS","v":0.217},{"d":"01/03/2004","s":"TOTAL BANCOS","v":0.221},{"d":"01/06/2004","s":"TOTAL BANCOS","v":0.226},{"d":"01/09/2004","s":"TOTAL BANCOS","v":0.230},{"d":"01/12/2004","s":"TOTAL BANCOS","v":0.233},{"d":"01/02/2005","s":"TOTAL BANCOS","v":0.234},{"d":"01/04/2005","s":"TOTAL BANCOS","v":0.236},{"d":"01/06/2005","s":"TOTAL BANCOS","v":0.234},
{"d":"01/12/1996","s":"TOTAL CORP FINAC","v":0.380},{"d":"01/03/1997","s":"TOTAL CORP FINAC","v":0.380},{"d":"01/06/1997","s":"TOTAL CORP FINAC","v":0.396},{"d":"01/09/1997","s":"TOTAL CORP FINAC","v":0.404},{"d":"01/12/1997","s":"TOTAL CORP FINAC","v":0.410},{"d":"01/03/1998","s":"TOTAL CORP FINAC","v":0.419},{"d":"01/06/1998","s":"TOTAL CORP FINAC","v":0.421},{"d":"01/09/1998","s":"TOTAL CORP FINAC","v":0.433},{"d":"01/12/1998","s":"TOTAL CORP FINAC","v":0.433},{"d":"01/03/1999","s":"TOTAL CORP FINAC","v":0.479},{"d":"01/06/1999","s":"TOTAL CORP FINAC","v":0.501},{"d":"01/09/1999","s":"TOTAL CORP FINAC","v":0.516},{"d":"01/12/1999","s":"TOTAL CORP FINAC","v":0.523},{"d":"01/03/2000","s":"TOTAL CORP FINAC","v":0.524},{"d":"01/06/2000","s":"TOTAL CORP FINAC","v":0.527},{"d":"01/09/2000","s":"TOTAL CORP FINAC","v":0.536},{"d":"01/12/2000","s":"TOTAL CORP FINAC","v":0.553},{"d":"01/03/2001","s":"TOTAL CORP FINAC","v":0.557},{"d":"01/06/2001","s":"TOTAL CORP FINAC","v":0.561},{"d":"01/09/2001","s":"TOTAL CORP FINAC","v":0.556},{"d":"01/12/2001","s":"TOTAL CORP FINAC","v":0.559},{"d":"01/03/2002","s":"TOTAL CORP FINAC","v":0.564},{"d":"01/06/2002","s":"TOTAL CORP FINAC","v":0.573},{"d":"01/09/2002","s":"TOTAL CORP FINAC","v":0.584},{"d":"01/12/2002","s":"TOTAL CORP FINAC","v":0.579},{"d":"01/03/2003","s":"TOTAL CORP FINAC","v":0.581},{"d":"01/06/2003","s":"TOTAL CORP FINAC","v":0.646},{"d":"01/09/2003","s":"TOTAL CORP FINAC","v":0.681},{"d":"01/12/2003","s":"TOTAL CORP FINAC","v":0.684},{"d":"01/03/2004","s":"TOTAL CORP FINAC","v":0.681},{"d":"01/06/2004","s":"TOTAL CORP FINAC","v":0.681},{"d":"01/09/2004","s":"TOTAL CORP FINAC","v":0.687},{"d":"01/12/2004","s":"TOTAL CORP FINAC","v":0.691},{"d":"01/02/2005","s":"TOTAL CORP FINAC","v":0.687},{"d":"01/04/2005","s":"TOTAL CORP FINAC","v":0.684},{"d":"01/06/2005","s":"TOTAL CORP FINAC","v":0.684},
{"d":"01/12/1996","s":"TOTAL CIAS FINC","v":0.214},{"d":"01/03/1997","s":"TOTAL CIAS FINC","v":0.214},{"d":"01/06/1997","s":"TOTAL CIAS FINC","v":0.217},{"d":"01/09/1997","s":"TOTAL CIAS FINC","v":0.213},{"d":"01/12/1997","s":"TOTAL CIAS FINC","v":0.233},{"d":"01/03/1998","s":"TOTAL CIAS FINC","v":0.230},{"d":"01/06/1998","s":"TOTAL CIAS FINC","v":0.236},{"d":"01/09/1998","s":"TOTAL CIAS FINC","v":0.251},{"d":"01/12/1998","s":"TOTAL CIAS FINC","v":0.250},{"d":"01/03/1999","s":"TOTAL CIAS FINC","v":0.249},{"d":"01/06/1999","s":"TOTAL CIAS FINC","v":0.260},{"d":"01/09/1999","s":"TOTAL CIAS FINC","v":0.270},{"d":"01/12/1999","s":"TOTAL CIAS FINC","v":0.274},{"d":"01/03/2000","s":"TOTAL CIAS FINC","v":0.276},{"d":"01/06/2000","s":"TOTAL CIAS FINC","v":0.271},{"d":"01/09/2000","s":"TOTAL CIAS FINC","v":0.280},{"d":"01/12/2000","s":"TOTAL CIAS FINC","v":0.257},{"d":"01/03/2001","s":"TOTAL CIAS FINC","v":0.256},{"d":"01/06/2001","s":"TOTAL CIAS FINC","v":0.259},{"d":"01/09/2001","s":"TOTAL CIAS FINC","v":0.293},{"d":"01/12/2001","s":"TOTAL CIAS FINC","v":0.306},{"d":"01/03/2002","s":"TOTAL CIAS FINC","v":0.311},{"d":"01/06/2002","s":"TOTAL CIAS FINC","v":0.311},{"d":"01/09/2002","s":"TOTAL CIAS FINC","v":0.311},{"d":"01/12/2002","s":"TOTAL CIAS FINC","v":0.314},{"d":"01/03/2003","s":"TOTAL CIAS FINC","v":0.317},{"d":"01/06/2003","s":"TOTAL CIAS FINC","v":0.319},{"d":"01/09/2003","s":"TOTAL CIAS FINC","v":0.320},{"d":"01/12/2003","s":"TOTAL CIAS FINC","v":0.319},{"d":"01/03/2004","s":"TOTAL CIAS FINC","v":0.314},{"d":"01/06/2004","s":"TOTAL CIAS FINC","v":0.321},{"d":"01/09/2004","s":"TOTAL CIAS FINC","v":0.326},{"d":"01/12/2004","s":"TOTAL CIAS FINC","v":0.329},{"d":"01/02/2005","s":"TOTAL CIAS FINC","v":0.333},{"d":"01/04/2005","s":"TOTAL CIAS FINC","v":0.334},{"d":"01/06/2005","s":"TOTAL CIAS FINC","v":0.336},
{"d":"01/12/1996","s":"TOTAL LEASING","v":0.187},{"d":"01/03/1997","s":"TOTAL LEASING","v":0.179},{"d":"01/06/1997","s":"TOTAL LEASING","v":0.187},{"d":"01/09/1997","s":"TOTAL LEASING","v":0.199},{"d":"01/12/1997","s":"TOTAL LEASING","v":0.233},{"d":"01/03/1998","s":"TOTAL LEASING","v":0.236},{"d":"01/06/1998","s":"TOTAL LEASING","v":0.273},{"d":"01/09/1998","s":"TOTAL LEASING","v":0.299},{"d":"01/12/1998","s":"TOTAL LEASING","v":0.321},{"d":"01/03/1999","s":"TOTAL LEASING","v":0.327},{"d":"01/06/1999","s":"TOTAL LEASING","v":0.341},{"d":"01/09/1999","s":"TOTAL LEASING","v":0.370},{"d":"01/12/1999","s":"TOTAL LEASING","v":0.414},{"d":"01/03/2000","s":"TOTAL LEASING","v":0.421},{"d":"01/06/2000","s":"TOTAL LEASING","v":0.429},{"d":"01/09/2000","s":"TOTAL LEASING","v":0.436},{"d":"01/12/2000","s":"TOTAL LEASING","v":0.447},{"d":"01/03/2001","s":"TOTAL LEASING","v":0.439},{"d":"01/06/2001","s":"TOTAL LEASING","v":0.437},{"d":"01/09/2001","s":"TOTAL LEASING","v":0.434},{"d":"01/12/2001","s":"TOTAL LEASING","v":0.466},{"d":"01/03/2002","s":"TOTAL LEASING","v":0.459},{"d":"01/06/2002","s":"TOTAL LEASING","v":0.459},{"d":"01/09/2002","s":"TOTAL LEASING","v":0.456},{"d":"01/12/2002","s":"TOTAL LEASING","v":0.459},{"d":"01/03/2003","s":"TOTAL LEASING","v":0.459},{"d":"01/06/2003","s":"TOTAL LEASING","v":0.453},{"d":"01/09/2003","s":"TOTAL LEASING","v":0.451},{"d":"01/12/2003","s":"TOTAL LEASING","v":0.451},{"d":"01/03/2004","s":"TOTAL LEASING","v":0.449},{"d":"01/06/2004","s":"TOTAL LEASING","v":0.449},{"d":"01/09/2004","s":"TOTAL LEASING","v":0.451},{"d":"01/12/2004","s":"TOTAL LEASING","v":0.457},{"d":"01/02/2005","s":"TOTAL LEASING","v":0.459},{"d":"01/04/2005","s":"TOTAL LEASING","v":0.459},{"d":"01/06/2005","s":"TOTAL LEASING","v":0.461}
]
},
"concat":[
{
"width":1135,"height":376,
"title":{"text":"Activos - Indice HHI","font":"DejaVu Sans","fontSize":21,"fontWeight":"bold","color":"black","offset":24,"anchor":"middle","frame":"bounds","dx":-9},
"data":{"name":"hhi"},
"encoding":{
"x":{"field":"d","type":"ordinal","bandPosition":0.5,"scale":{"type":"band","paddingInner":0,"paddingOuter":0,"range":[55,1135],"domain":["01/12/1996","01/03/1997","01/06/1997","01/09/1997","01/12/1997","01/03/1998","01/06/1998","01/09/1998","01/12/1998","01/03/1999","01/06/1999","01/09/1999","01/12/1999","01/03/2000","01/06/2000","01/09/2000","01/12/2000","01/03/2001","01/06/2001","01/09/2001","01/12/2001","01/03/2002","01/06/2002","01/09/2002","01/12/2002","01/03/2003","01/06/2003","01/09/2003","01/12/2003","01/03/2004","01/06/2004","01/09/2004","01/12/2004","01/02/2005","01/04/2005","01/06/2005"]},
"axis":{"title":null,"labelAngle":-90,"labelFont":"Liberation Sans","labelFontSize":14,"labelColor":"black","labelExpr":"indexof(['03','09','02'], substring(datum.value, 3, 5)) >= 0 || datum.value == '01/06/2005' ? '' : datum.value","labelOverlap":false,"labelPadding":2,"tickBand":"extent","tickSize":5,"tickColor":"black","tickWidth":1,"domainColor":"#333333","domainWidth":2.5,"grid":false}},
"y":{"field":"v","type":"quantitative","scale":{"domain":[0,4000],"nice":false},
"axis":{"title":null,"offset":-55,"values":[0,500,1000,1500,2000,2500,3000,3500,4000],"labelExpr":"datum.value == 0 ? '-' : replace(format(datum.value, ','), ',', '.')","labelFont":"DejaVu Sans","labelFontSize":15,"labelFontWeight":"bold","labelColor":"black","labelPadding":16,"tickSize":7,"tickColor":"black","tickWidth":1.5,"domainColor":"black","domainWidth":2,"grid":true,"gridColor":{"condition":{"test":"datum.value == 4000","value":"#888888"},"value":"#c8c8c8"},"gridDash":{"condition":{"test":"datum.value == 4000","value":[1,0]},"value":[46,15]},"gridWidth":1.5}}
},
"layer":[
{"mark":{"type":"line","strokeWidth":4,"interpolate":"monotone"},
"encoding":{
"color":{"field":"s","type":"nominal","scale":{"domain":["TOTAL BANCOS","TOTAL CORP FINAC","TOTAL CIAS FINC","TOTAL LEASING"],"range":["#ffff00","#ff0000","#c0c0c0","#3366ff"]},
"legend":{"title":null,"orient":"bottom","direction":"horizontal","offset":10,"strokeColor":"black","padding":1,"columnPadding":30,"labelFont":"DejaVu Sans","labelFontSize":18,"labelColor":"black","labelOffset":41,"labelLimit":400,"symbolSize":336,"symbolStrokeWidth":4,"symbolType":"stroke",
"encode":{"symbols":{"update":{"shape":{"signal":"datum.value == 'TOTAL CIAS FINC' ? 'M-1,0H5M1.35,0.55L2.65,0.55L2,-0.65Z' : datum.value == 'TOTAL LEASING' ? 'M-1,0H5M1.51,0A0.49,0.49,0,1,0,2.49,0A0.49,0.49,0,1,0,1.51,0Z' : 'M-1,0H5'"},"fill":{"signal":"datum.value == 'TOTAL CIAS FINC' ? '#969696' : datum.value == 'TOTAL LEASING' ? '#0000ff' : 'transparent'"},"strokeDash":{"signal":"datum.value == 'TOTAL BANCOS' ? [38,13] : []"}}}}}},
"strokeDash":{"field":"s","type":"nominal","scale":{"domain":["TOTAL BANCOS","TOTAL CORP FINAC","TOTAL CIAS FINC","TOTAL LEASING"],"range":[[22,8],[1,0],[1,0],[1,0]]},"legend":null}}},
{"transform":[{"filter":"datum.s == 'TOTAL CIAS FINC' || datum.s == 'TOTAL LEASING'"}],
"mark":{"type":"point","filled":true,"size":90,"opacity":1,"strokeWidth":0},
"encoding":{"shape":{"field":"s","type":"nominal","scale":{"domain":["TOTAL CIAS FINC","TOTAL LEASING"],"range":["triangle-up","circle"]},"legend":null},
"fill":{"field":"s","type":"nominal","scale":{"domain":["TOTAL CIAS FINC","TOTAL LEASING"],"range":["#969696","#0000ff"]},"legend":null}}}
]
},
{
"hconcat":[
{
"width":530,"height":186,
"title":{"text":"Activos - Indice CR","font":"DejaVu Sans","fontSize":10,"fontWeight":"bold","color":"black","offset":14,"anchor":"middle","frame":"bounds"},
"data":{"name":"cr"},
"encoding":{
"x":{"field":"d","type":"ordinal","bandPosition":0.5,"scale":{"type":"band","paddingInner":0,"paddingOuter":0,"domain":["01/12/1996","01/03/1997","01/06/1997","01/09/1997","01/12/1997","01/03/1998","01/06/1998","01/09/1998","01/12/1998","01/03/1999","01/06/1999","01/09/1999","01/12/1999","01/03/2000","01/06/2000","01/09/2000","01/12/2000","01/03/2001","01/06/2001","01/09/2001","01/12/2001","01/03/2002","01/06/2002","01/09/2002","01/12/2002","01/03/2003","01/06/2003","01/09/2003","01/12/2003","01/03/2004","01/06/2004","01/09/2004","01/12/2004","01/02/2005","01/04/2005","01/06/2005"]},
"axis":{"title":null,"labelAngle":-90,"labelFont":"Liberation Sans","labelFontSize":7,"labelColor":"black","labelExpr":"indexof(['03','09','02'], substring(datum.value, 3, 5)) >= 0 || datum.value == '01/06/2005' ? '' : datum.value","labelOverlap":false,"labelPadding":2,"tickBand":"extent","tickSize":3,"tickColor":"black","tickWidth":1,"domainColor":"black","domainWidth":1.5,"grid":false}},
"y":{"field":"v","type":"quantitative","scale":{"domain":[0,120],"nice":false},
"axis":{"title":null,"values":[0,20,40,60,80,100,120],"labelExpr":"datum.value + '%'","labelFont":"Liberation Sans","labelFontSize":7.5,"labelFontWeight":"bold","labelColor":"black","labelPadding":3,"tickSize":4,"tickColor":"black","tickWidth":1,"domainColor":"black","domainWidth":1.2,"grid":true,"gridColor":"#c0c0c0","gridDash":[36,14],"gridWidth":1.2,"minExtent":46}}
},
"layer":[
{"mark":{"type":"line","strokeWidth":1.5,"interpolate":"monotone"},
"encoding":{
"color":{"field":"s","type":"nominal","scale":{"domain":["TOTAL BANCOS","TOTAL CORP FINAC","TOTAL CIAS FINC","TOTAL LEASING"],"range":["#ffff00","#ff0000","#c0c0c0","#3366ff"]},
"legend":{"title":null,"orient":"bottom","direction":"horizontal","offset":1,"strokeColor":"black","padding":1,"columnPadding":5,"labelFont":"DejaVu Sans","labelFontSize":9.8,"labelColor":"black","labelOffset":20,"labelLimit":300,"symbolSize":75,"symbolStrokeWidth":2,"symbolType":"stroke",
"encode":{"symbols":{"update":{"shape":{"signal":"datum.value == 'TOTAL CIAS FINC' ? 'M-1,0H5M1.31,0.55L2.69,0.55L2,-0.6Z' : datum.value == 'TOTAL LEASING' ? 'M-1,0H5M1.54,0A0.46,0.46,0,1,0,2.46,0A0.46,0.46,0,1,0,1.54,0Z' : 'M-1,0H5'"},"fill":{"signal":"datum.value == 'TOTAL CIAS FINC' ? '#969696' : datum.value == 'TOTAL LEASING' ? '#0000ff' : 'transparent'"},"strokeDash":{"signal":"datum.value == 'TOTAL BANCOS' ? [16,5] : []"}}}}}},
"strokeDash":{"field":"s","type":"nominal","scale":{"domain":["TOTAL BANCOS","TOTAL CORP FINAC","TOTAL CIAS FINC","TOTAL LEASING"],"range":[[8,4],[1,0],[1,0],[1,0]]},"legend":null}}},
{"transform":[{"filter":"datum.s == 'TOTAL CIAS FINC' || datum.s == 'TOTAL LEASING'"}],
"mark":{"type":"point","filled":true,"size":16,"opacity":1,"strokeWidth":0},
"encoding":{"shape":{"field":"s","type":"nominal","scale":{"domain":["TOTAL CIAS FINC","TOTAL LEASING"],"range":["triangle-up","circle"]},"legend":null},
"fill":{"field":"s","type":"nominal","scale":{"domain":["TOTAL CIAS FINC","TOTAL LEASING"],"range":["#969696","#0000ff"]},"legend":null}}}
]
},
{
"width":529,"height":186,
"title":{"text":"Activos - Indice E","font":"DejaVu Sans","fontSize":10,"fontWeight":"bold","color":"black","offset":14,"anchor":"middle","frame":"bounds"},
"data":{"name":"e"},
"encoding":{
"x":{"field":"d","type":"ordinal","bandPosition":0.5,"scale":{"type":"band","paddingInner":0,"paddingOuter":0,"domain":["01/12/1996","01/03/1997","01/06/1997","01/09/1997","01/12/1997","01/03/1998","01/06/1998","01/09/1998","01/12/1998","01/03/1999","01/06/1999","01/09/1999","01/12/1999","01/03/2000","01/06/2000","01/09/2000","01/12/2000","01/03/2001","01/06/2001","01/09/2001","01/12/2001","01/03/2002","01/06/2002","01/09/2002","01/12/2002","01/03/2003","01/06/2003","01/09/2003","01/12/2003","01/03/2004","01/06/2004","01/09/2004","01/12/2004","01/02/2005","01/04/2005","01/06/2005"]},
"axis":{"title":null,"labelAngle":-90,"labelFont":"Liberation Sans","labelFontSize":7,"labelColor":"black","labelExpr":"indexof(['03','09','02'], substring(datum.value, 3, 5)) >= 0 || datum.value == '01/06/2005' ? '' : datum.value","labelOverlap":false,"labelPadding":2,"tickBand":"extent","tickSize":3,"tickColor":"black","tickWidth":1,"domainColor":"black","domainWidth":1.5,"grid":false}},
"y":{"field":"v","type":"quantitative","scale":{"domain":[0,6],"nice":false},
"axis":{"title":null,"values":[0,1,2,3,4,5,6],"labelExpr":"datum.value == 0 ? '-' : replace(format(datum.value, '.1f'), '.', ',')","labelFont":"Liberation Sans","labelFontSize":7.5,"labelFontWeight":"bold","labelColor":"black","labelPadding":3,"tickSize":4,"tickColor":"black","tickWidth":1,"domainColor":"black","domainWidth":1.2,"grid":true,"gridColor":"#c0c0c0","gridDash":[36,14],"gridWidth":1.2,"minExtent":45}}
},
"layer":[
{"mark":{"type":"line","strokeWidth":1.5,"interpolate":"monotone"},
"encoding":{
"color":{"field":"s","type":"nominal","scale":{"domain":["TOTAL BANCOS","TOTAL CORP FINAC","TOTAL CIAS FINC","TOTAL LEASING"],"range":["#ffff00","#ff0000","#c0c0c0","#3366ff"]},
"legend":{"title":null,"orient":"bottom","direction":"horizontal","offset":1,"strokeColor":"black","padding":1,"columnPadding":5,"labelFont":"DejaVu Sans","labelFontSize":9.8,"labelColor":"black","labelOffset":20,"labelLimit":300,"symbolSize":75,"symbolStrokeWidth":2,"symbolType":"stroke",
"encode":{"symbols":{"update":{"shape":{"signal":"datum.value == 'TOTAL CIAS FINC' ? 'M-1,0H5M1.31,0.55L2.69,0.55L2,-0.6Z' : datum.value == 'TOTAL LEASING' ? 'M-1,0H5M1.54,0A0.46,0.46,0,1,0,2.46,0A0.46,0.46,0,1,0,1.54,0Z' : 'M-1,0H5'"},"fill":{"signal":"datum.value == 'TOTAL CIAS FINC' ? '#969696' : datum.value == 'TOTAL LEASING' ? '#0000ff' : 'transparent'"},"strokeDash":{"signal":"datum.value == 'TOTAL BANCOS' ? [16,5] : []"}}}}}},
"strokeDash":{"field":"s","type":"nominal","scale":{"domain":["TOTAL BANCOS","TOTAL CORP FINAC","TOTAL CIAS FINC","TOTAL LEASING"],"range":[[8,4],[1,0],[1,0],[1,0]]},"legend":null}}},
{"transform":[{"filter":"datum.s == 'TOTAL CIAS FINC' || datum.s == 'TOTAL LEASING'"}],
"mark":{"type":"point","filled":true,"size":16,"opacity":1,"strokeWidth":0},
"encoding":{"shape":{"field":"s","type":"nominal","scale":{"domain":["TOTAL CIAS FINC","TOTAL LEASING"],"range":["triangle-up","circle"]},"legend":null},
"fill":{"field":"s","type":"nominal","scale":{"domain":["TOTAL CIAS FINC","TOTAL LEASING"],"range":["#969696","#0000ff"]},"legend":null}}}
]
}
],
"spacing":30,
"resolve":{"scale":{"color":"independent","strokeDash":"independent","shape":"independent","fill":"independent"},"legend":{"color":"independent"}}
},
{
"hconcat":[
{
"width":528,"height":186,
"title":{"text":"Activos - Indice HTI","font":"DejaVu Sans","fontSize":10,"fontWeight":"bold","color":"black","offset":14,"anchor":"middle","frame":"bounds"},
"data":{"name":"hti"},
"encoding":{
"x":{"field":"d","type":"ordinal","bandPosition":0.5,"scale":{"type":"band","paddingInner":0,"paddingOuter":0,"range":[4,528],"domain":["01/12/1996","01/03/1997","01/06/1997","01/09/1997","01/12/1997","01/03/1998","01/06/1998","01/09/1998","01/12/1998","01/03/1999","01/06/1999","01/09/1999","01/12/1999","01/03/2000","01/06/2000","01/09/2000","01/12/2000","01/03/2001","01/06/2001","01/09/2001","01/12/2001","01/03/2002","01/06/2002","01/09/2002","01/12/2002","01/03/2003","01/06/2003","01/09/2003","01/12/2003","01/03/2004","01/06/2004","01/09/2004","01/12/2004","01/02/2005","01/04/2005","01/06/2005"]},
"axis":{"title":null,"labelAngle":-90,"labelFont":"Liberation Sans","labelFontSize":7,"labelColor":"black","labelExpr":"indexof(['03','09','02'], substring(datum.value, 3, 5)) >= 0 || datum.value == '01/06/2005' ? '' : datum.value","labelOverlap":false,"labelPadding":2,"tickBand":"extent","tickSize":3,"tickColor":"black","tickWidth":1,"domainColor":"black","domainWidth":1.5,"grid":false}},
"y":{"field":"v","type":"quantitative","scale":{"domain":[0,0.45],"nice":false},
"axis":{"title":null,"offset":-4,"values":[0,0.05,0.1,0.15,0.2,0.25,0.3,0.35,0.4,0.45],"labelExpr":"datum.value == 0 ? '-' : replace(format(datum.value, '.2f'), '.', ',')","labelFont":"Liberation Sans","labelFontSize":7.5,"labelFontWeight":"bold","labelColor":"black","labelPadding":3,"tickSize":4,"tickColor":"black","tickWidth":1,"domainColor":"black","domainWidth":1.2,"grid":true,"gridColor":"#c0c0c0","gridDash":[36,14],"gridWidth":1.2,"minExtent":50}}
},
"layer":[
{"mark":{"type":"line","strokeWidth":1.5,"interpolate":"monotone"},
"encoding":{
"color":{"field":"s","type":"nominal","scale":{"domain":["TOTAL BANCOS","TOTAL CORP FINAC","TOTAL CIAS FINC","TOTAL LEASING"],"range":["#ffff00","#ff0000","#c0c0c0","#3366ff"]},
"legend":{"title":null,"orient":"bottom","direction":"horizontal","offset":1,"strokeColor":"black","padding":1,"columnPadding":5,"labelFont":"DejaVu Sans","labelFontSize":9.8,"labelColor":"black","labelOffset":20,"labelLimit":300,"symbolSize":75,"symbolStrokeWidth":2,"symbolType":"stroke",
"encode":{"symbols":{"update":{"shape":{"signal":"datum.value == 'TOTAL CIAS FINC' ? 'M-1,0H5M1.31,0.55L2.69,0.55L2,-0.6Z' : datum.value == 'TOTAL LEASING' ? 'M-1,0H5M1.54,0A0.46,0.46,0,1,0,2.46,0A0.46,0.46,0,1,0,1.54,0Z' : 'M-1,0H5'"},"fill":{"signal":"datum.value == 'TOTAL CIAS FINC' ? '#969696' : datum.value == 'TOTAL LEASING' ? '#0000ff' : 'transparent'"},"strokeDash":{"signal":"datum.value == 'TOTAL BANCOS' ? [16,5] : []"}}}}}},
"strokeDash":{"field":"s","type":"nominal","scale":{"domain":["TOTAL BANCOS","TOTAL CORP FINAC","TOTAL CIAS FINC","TOTAL LEASING"],"range":[[8,4],[1,0],[1,0],[1,0]]},"legend":null}}},
{"transform":[{"filter":"datum.s == 'TOTAL CIAS FINC' || datum.s == 'TOTAL LEASING'"}],
"mark":{"type":"point","filled":true,"size":16,"opacity":1,"strokeWidth":0},
"encoding":{"shape":{"field":"s","type":"nominal","scale":{"domain":["TOTAL CIAS FINC","TOTAL LEASING"],"range":["triangle-up","circle"]},"legend":null},
"fill":{"field":"s","type":"nominal","scale":{"domain":["TOTAL CIAS FINC","TOTAL LEASING"],"range":["#969696","#0000ff"]},"legend":null}}}
]
},
{
"width":529,"height":186,
"title":{"text":"Activos - Indice CCI","font":"DejaVu Sans","fontSize":10,"fontWeight":"bold","color":"black","offset":14,"anchor":"middle","frame":"bounds"},
"data":{"name":"cci"},
"encoding":{
"x":{"field":"d","type":"ordinal","bandPosition":0.5,"scale":{"type":"band","paddingInner":0,"paddingOuter":0,"domain":["01/12/1996","01/03/1997","01/06/1997","01/09/1997","01/12/1997","01/03/1998","01/06/1998","01/09/1998","01/12/1998","01/03/1999","01/06/1999","01/09/1999","01/12/1999","01/03/2000","01/06/2000","01/09/2000","01/12/2000","01/03/2001","01/06/2001","01/09/2001","01/12/2001","01/03/2002","01/06/2002","01/09/2002","01/12/2002","01/03/2003","01/06/2003","01/09/2003","01/12/2003","01/03/2004","01/06/2004","01/09/2004","01/12/2004","01/02/2005","01/04/2005","01/06/2005"]},
"axis":{"title":null,"labelAngle":-90,"labelFont":"Liberation Sans","labelFontSize":7,"labelColor":"black","labelExpr":"indexof(['03','09','02'], substring(datum.value, 3, 5)) >= 0 || datum.value == '01/06/2005' ? '' : datum.value","labelOverlap":false,"labelPadding":2,"tickBand":"extent","tickSize":3,"tickColor":"black","tickWidth":1,"domainColor":"black","domainWidth":1.5,"grid":false}},
"y":{"field":"v","type":"quantitative","scale":{"domain":[0,0.8],"nice":false},
"axis":{"title":null,"values":[0,0.1,0.2,0.3,0.4,0.5,0.6,0.7,0.8],"labelExpr":"datum.value == 0 ? '-' : replace(format(datum.value, '.1f'), '.', ',')","labelFont":"Liberation Sans","labelFontSize":7.5,"labelFontWeight":"bold","labelColor":"black","labelPadding":3,"tickSize":4,"tickColor":"black","tickWidth":1,"domainColor":"black","domainWidth":1.2,"grid":true,"gridColor":"#c0c0c0","gridDash":[36,14],"gridWidth":1.2,"minExtent":46}}
},
"layer":[
{"mark":{"type":"line","strokeWidth":1.5,"interpolate":"monotone"},
"encoding":{
"color":{"field":"s","type":"nominal","scale":{"domain":["TOTAL BANCOS","TOTAL CORP FINAC","TOTAL CIAS FINC","TOTAL LEASING"],"range":["#ffff00","#ff0000","#c0c0c0","#3366ff"]},
"legend":{"title":null,"orient":"bottom","direction":"horizontal","offset":1,"strokeColor":"black","padding":1,"columnPadding":5,"labelFont":"DejaVu Sans","labelFontSize":9.8,"labelColor":"black","labelOffset":20,"labelLimit":300,"symbolSize":75,"symbolStrokeWidth":2,"symbolType":"stroke",
"encode":{"symbols":{"update":{"shape":{"signal":"datum.value == 'TOTAL CIAS FINC' ? 'M-1,0H5M1.31,0.55L2.69,0.55L2,-0.6Z' : datum.value == 'TOTAL LEASING' ? 'M-1,0H5M1.54,0A0.46,0.46,0,1,0,2.46,0A0.46,0.46,0,1,0,1.54,0Z' : 'M-1,0H5'"},"fill":{"signal":"datum.value == 'TOTAL CIAS FINC' ? '#969696' : datum.value == 'TOTAL LEASING' ? '#0000ff' : 'transparent'"},"strokeDash":{"signal":"datum.value == 'TOTAL BANCOS' ? [16,5] : []"}}}}}},
"strokeDash":{"field":"s","type":"nominal","scale":{"domain":["TOTAL BANCOS","TOTAL CORP FINAC","TOTAL CIAS FINC","TOTAL LEASING"],"range":[[8,4],[1,0],[1,0],[1,0]]},"legend":null}}},
{"transform":[{"filter":"datum.s == 'TOTAL CIAS FINC' || datum.s == 'TOTAL LEASING'"}],
"mark":{"type":"point","filled":true,"size":16,"opacity":1,"strokeWidth":0},
"encoding":{"shape":{"field":"s","type":"nominal","scale":{"domain":["TOTAL CIAS FINC","TOTAL LEASING"],"range":["triangle-up","circle"]},"legend":null},
"fill":{"field":"s","type":"nominal","scale":{"domain":["TOTAL CIAS FINC","TOTAL LEASING"],"range":["#969696","#0000ff"]},"legend":null}}}
]
}
],
"spacing":30,
"resolve":{"scale":{"color":"independent","strokeDash":"independent","shape":"independent","fill":"independent"},"legend":{"color":"independent"}}
}
]
}
